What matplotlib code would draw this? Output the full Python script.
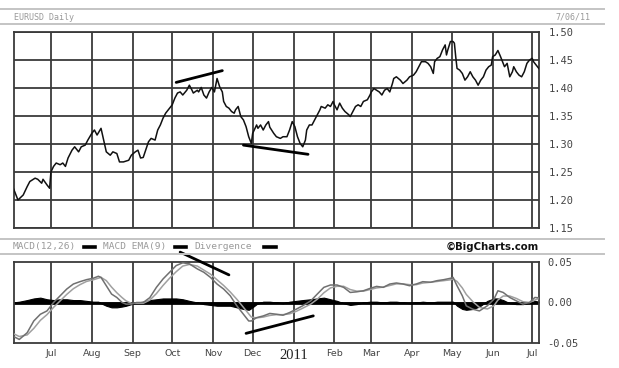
import numpy as np
import matplotlib
matplotlib.use("Agg")
import matplotlib.pyplot as plt
from matplotlib.lines import Line2D

# ---------------- data (days are offsets from 2010-07-01) ----------------
base_date = np.datetime64("2010-07-01")

price_days = [-29, -25, -21, -18, -16, -12, -10, -7, -6, -3, -1, 0, 2, 4, 7, 9, 11, 13, 16, 18,
              21, 23, 26, 28, 31, 33, 35, 38, 40, 42, 45, 47, 50, 52, 55, 59, 61, 64, 66, 68,
              70, 71, 74, 76, 79, 81, 83, 85, 87, 90, 92, 94, 96, 98, 100, 103, 105, 107, 108, 111,
              112, 114, 116, 118, 120, 122, 124, 126, 128, 130, 131, 133, 135, 137, 139, 140, 142, 144, 146, 148,
              150, 152, 153, 156, 157, 159, 161, 163, 165, 166, 169, 171, 174, 176, 179, 181, 183, 185, 187, 189,
              191, 193, 194, 196, 198, 200, 202, 204, 205, 208, 210, 212, 214, 215, 217, 219, 221, 223, 226, 227,
              229, 231, 233, 235, 237, 240, 242, 243, 245, 247, 249, 251, 253, 255, 257, 259, 260, 262, 265, 267,
              270, 272, 275, 277, 279, 281, 284, 286, 288, 290, 291, 293, 295, 297, 299, 300, 301, 303, 305, 306,
              307, 308, 310, 312, 314, 316, 318, 320, 322, 324, 326, 328, 330, 332, 334, 335, 337, 339, 341, 343,
              344, 346, 348, 350, 351, 353, 355, 357, 359, 361, 363, 365, 366, 368, 370]
price_vals = [1.224, 1.200, 1.209, 1.224, 1.233, 1.239, 1.237, 1.230, 1.237, 1.227, 1.221, 1.250, 1.260, 1.266, 1.263, 1.266, 1.260, 1.275, 1.289, 1.295,
              1.286, 1.295, 1.298, 1.307, 1.319, 1.325, 1.316, 1.328, 1.307, 1.286, 1.280, 1.286, 1.283, 1.268, 1.268, 1.271, 1.280, 1.286, 1.289, 1.275,
              1.276, 1.283, 1.304, 1.310, 1.307, 1.325, 1.334, 1.346, 1.355, 1.364, 1.370, 1.382, 1.391, 1.393, 1.3875, 1.396, 1.405, 1.396, 1.391, 1.396,
              1.393, 1.401, 1.3875, 1.382, 1.393, 1.401, 1.393, 1.417, 1.402, 1.393, 1.376, 1.367, 1.364, 1.358, 1.355, 1.361, 1.367, 1.349, 1.343, 1.331,
              1.313, 1.301, 1.319, 1.334, 1.328, 1.334, 1.325, 1.334, 1.340, 1.330, 1.319, 1.313, 1.310, 1.313, 1.313, 1.325, 1.340, 1.331, 1.313, 1.301,
              1.295, 1.307, 1.325, 1.334, 1.334, 1.343, 1.352, 1.361, 1.367, 1.364, 1.370, 1.367, 1.376, 1.370, 1.361, 1.373, 1.364, 1.358, 1.352, 1.349,
              1.358, 1.367, 1.370, 1.367, 1.376, 1.379, 1.3875, 1.393, 1.399, 1.396, 1.393, 1.3875, 1.396, 1.399, 1.393, 1.408, 1.417, 1.420, 1.414, 1.408,
              1.414, 1.420, 1.423, 1.429, 1.438, 1.447, 1.447, 1.444, 1.438, 1.426, 1.447, 1.453, 1.456, 1.468, 1.477, 1.459, 1.468, 1.483, 1.483, 1.480,
              1.456, 1.435, 1.432, 1.426, 1.414, 1.420, 1.429, 1.420, 1.414, 1.405, 1.414, 1.420, 1.432, 1.438, 1.441, 1.456, 1.459, 1.467, 1.456, 1.444,
              1.438, 1.444, 1.420, 1.429, 1.438, 1.429, 1.423, 1.420, 1.429, 1.444, 1.450, 1.453, 1.447, 1.441, 1.435]

macd_days = [-29, -24, -18, -13, -8, -3, 2, 7, 12, 17, 22, 27, 32, 36, 38, 42, 46, 50, 54, 57,
             61, 65, 70, 75, 80, 85, 90, 95, 100, 105, 111, 116, 121, 126, 131, 136, 141, 146, 150, 152,
             156, 161, 166, 171, 176, 181, 186, 191, 197, 202, 207, 212, 217, 222, 227, 232, 237, 242, 247, 252,
             257, 262, 267, 272, 277, 282, 288, 293, 298, 303, 305, 308, 312, 315, 320, 325, 331, 336, 339, 343,
             348, 353, 358, 363, 367, 370]
macd_vals = [-0.0414, -0.0456, -0.0373, -0.0228, -0.0145, -0.0104, 0.0000, 0.0083, 0.0166, 0.0228, 0.0257, 0.0282, 0.0299, 0.0324, 0.0310, 0.0207, 0.0104, 0.0062, 0.0000, -0.0020,
             -0.0020, 0.0000, 0.0000, 0.0060, 0.0187, 0.0290, 0.0373, 0.0456, 0.0490, 0.0477, 0.0415, 0.0373, 0.0310, 0.0228, 0.0166, 0.0083, -0.0041, -0.0145, -0.0228, -0.0228,
             -0.0187, -0.0166, -0.0135, -0.0145, -0.0157, -0.0124, -0.0083, -0.0040, 0.0020, 0.0104, 0.0187, 0.0216, 0.0216, 0.0187, 0.0124, 0.0132, 0.0145, 0.0174, 0.0199, 0.0187,
             0.0228, 0.0241, 0.0228, 0.0207, 0.0228, 0.0257, 0.0250, 0.0270, 0.0282, 0.0299, 0.0310, 0.0207, 0.0083, -0.0041, -0.0083, -0.0104, -0.0040, 0.0041, 0.0145, 0.0124,
             0.0062, 0.0020, -0.0020, 0.0000, 0.0062, 0.0058]
signal_vals = [-0.0380, -0.0420, -0.0400, -0.0320, -0.0220, -0.0150, -0.0060, 0.0020, 0.0100, 0.0170, 0.0220, 0.0260, 0.0280, 0.0300, 0.0310, 0.0270, 0.0190, 0.0120, 0.0060, 0.0020,
               -0.0010, -0.0010, -0.0010, 0.0030, 0.0110, 0.0210, 0.0300, 0.0380, 0.0450, 0.0470, 0.0450, 0.0400, 0.0350, 0.0280, 0.0210, 0.0130, 0.0040, -0.0060, -0.0140, -0.0180,
               -0.0190, -0.0180, -0.0160, -0.0150, -0.0150, -0.0140, -0.0110, -0.0070, -0.0020, 0.0040, 0.0120, 0.0180, 0.0200, 0.0200, 0.0160, 0.0140, 0.0140, 0.0160, 0.0180, 0.0190,
               0.0210, 0.0230, 0.0230, 0.0220, 0.0220, 0.0240, 0.0250, 0.0260, 0.0270, 0.0280, 0.0290, 0.0260, 0.0180, 0.0100, 0.0010, -0.0060, -0.0080, -0.0040, 0.0030, 0.0080,
               0.0080, 0.0050, 0.0010, 0.0000, 0.0030, 0.0050]
div_vals = [0.000, 0.001, 0.003, 0.005, 0.006, 0.004, 0.003, 0.004, 0.004, 0.003, 0.003, 0.002, 0.001, 0.001, -0.001, -0.004, -0.006, -0.006, -0.005, -0.004,
            -0.002, 0.000, 0.001, 0.003, 0.004, 0.005, 0.005, 0.005, 0.004, 0.002, 0.000, -0.002, -0.003, -0.004, -0.004, -0.004, -0.006, -0.008, -0.009, -0.007,
            -0.002, 0.001, 0.001, 0.000, -0.001, 0.001, 0.002, 0.003, 0.004, 0.005, 0.006, 0.004, 0.002, -0.001, -0.003, -0.002, 0.000, 0.001, 0.001, 0.000,
            0.001, 0.001, 0.000, -0.001, 0.000, 0.001, 0.000, 0.001, 0.001, 0.001, 0.001, -0.004, -0.008, -0.009, -0.008, -0.005, 0.002, 0.005, 0.005, 0.003,
            -0.001, -0.002, -0.002, 0.000, 0.002, 0.001]

# hand-drawn divergence trend lines: (day, value) pairs
price_trend_1 = ([95, 130], [1.410, 1.431])
price_trend_2 = ([146, 195], [1.298, 1.2816])
macd_trend_1 = ([98, 135], [0.0622, 0.0341])
macd_trend_2 = ([148, 199], [-0.0381, -0.0165])

month_starts = ["2010-07-01", "2010-08-01", "2010-09-01", "2010-10-01", "2010-11-01", "2010-12-01",
                "2011-01-01", "2011-02-01", "2011-03-01", "2011-04-01", "2011-05-01", "2011-06-01", "2011-07-01"]
month_labels = ["Jul", "Aug", "Sep", "Oct", "Nov", "Dec", "2011", "Feb", "Mar", "Apr", "May", "Jun", "Jul"]
price_ticks = [1.15, 1.20, 1.25, 1.30, 1.35, 1.40, 1.45, 1.50]
macd_ticks = [-0.05, 0.00, 0.05]

# ---------------- drawing ----------------
def to_dates(days):
    return base_date + np.array(days, dtype="timedelta64[D]")

W, H = 619, 368
fig = plt.figure(figsize=(W / 100, H / 100), dpi=100)
fig.patch.set_facecolor("white")

def fx(px):
    return px / W

def fy(py):
    return 1 - py / H

ax1 = fig.add_axes([fx(14), fy(228), fx(525), 196 / H])
ax2 = fig.add_axes([fx(14), fy(343), fx(525), 81 / H])

xmin = base_date - np.timedelta64(28, "D")
xmax = base_date + np.timedelta64(370, "D") + np.timedelta64(4, "h")
month_dates = np.array(month_starts, dtype="datetime64[D]")

grid_color = "#3a3a3a"
label_color = "#444444"

for ax in (ax1, ax2):
    ax.set_xlim(xmin, xmax)
    ax.set_xticks(month_dates)
    ax.xaxis.grid(True, color=grid_color, linewidth=1.3)
    ax.set_axisbelow(True)
    ax.yaxis.tick_right()
    ax.tick_params(axis="both", length=0)
    for s in ax.spines.values():
        s.set_color(grid_color)
        s.set_linewidth(1.3)

# price panel
ax1.set_ylim(1.15, 1.50)
ax1.set_yticks(price_ticks)
ax1.set_yticklabels(["%.2f" % t for t in price_ticks], family="DejaVu Sans Mono",
                    fontsize=7.5, color=label_color)
ax1.tick_params(axis="y", pad=7)
ax1.yaxis.grid(True, color=grid_color, linewidth=1.3)
ax1.set_xticklabels([])
ax1.plot(to_dates(price_days), price_vals, color="#111111", linewidth=1.1, zorder=3)
ax1.plot(to_dates(price_trend_1[0]), price_trend_1[1], color="black", linewidth=2.0,
         solid_capstyle="round", zorder=4)
ax1.plot(to_dates(price_trend_2[0]), price_trend_2[1], color="black", linewidth=2.0,
         solid_capstyle="round", zorder=4)

# MACD panel
ax2.set_ylim(-0.05, 0.05)
ax2.set_yticks(macd_ticks)
ax2.set_yticklabels(["%.2f" % t if t >= 0 else "-%.2f" % abs(t) for t in macd_ticks],
                    family="DejaVu Sans Mono", fontsize=7.5, color=label_color)
ax2.tick_params(axis="y", pad=6)
md = to_dates(macd_days)
ax2.fill_between(md, 0, div_vals, color="black", linewidth=0.8, zorder=2)
ax2.axhline(0, color="black", linewidth=2.0, zorder=2)
ax2.plot(md, signal_vals, color="#a0a0a0", linewidth=1.1, zorder=3)
ax2.plot(md, macd_vals, color="#707070", linewidth=1.1, zorder=3)
ax2.plot(to_dates(macd_trend_1[0]), macd_trend_1[1], color="black", linewidth=2.0,
         solid_capstyle="round", zorder=4, clip_on=False)
ax2.plot(to_dates(macd_trend_2[0]), macd_trend_2[1], color="black", linewidth=2.0,
         solid_capstyle="round", zorder=4)

ax2.set_xticklabels(month_labels, family="DejaVu Sans", fontsize=6.8, color=label_color)
ax2.tick_params(axis="x", pad=4)
for lab in ax2.get_xticklabels():
    if lab.get_text() == "2011":
        lab.set_family("Liberation Serif")
        lab.set_fontsize(10.5)
        lab.set_color("#222222")

# header strips
for y in (9, 24, 239, 254):
    fig.add_artist(Line2D([0, fx(604)], [fy(y), fy(y)], color="#c4c4c4", linewidth=1.4))

fig.text(fx(14), fy(17), "EURUSD Daily", family="DejaVu Sans Mono", fontsize=6,
         color="#9a9a9a", va="center", ha="left")
fig.text(fx(590), fy(17), "7/06/11", family="DejaVu Sans Mono", fontsize=6,
         color="#9a9a9a", va="center", ha="right")

legend_items = [("MACD(12,26)", 13, 84, 95), ("MACD EMA(9)", 103, 175, 186), ("Divergence", 194, 264, 276)]
for txt, tx, d0, d1 in legend_items:
    fig.text(fx(tx), fy(246.5), txt, family="DejaVu Sans Mono", fontsize=6.8,
             color="#9a9a9a", va="center", ha="left")
    fig.add_artist(Line2D([fx(d0), fx(d1)], [fy(246.5), fy(246.5)], color="black", linewidth=2.6))

fig.text(fx(539), fy(246.5), "\u00a9BigCharts.com", family="DejaVu Sans", fontweight="bold",
         fontsize=7.3, color="#111111", va="center", ha="right")

fig.savefig("out.png", dpi=100, facecolor="white")
